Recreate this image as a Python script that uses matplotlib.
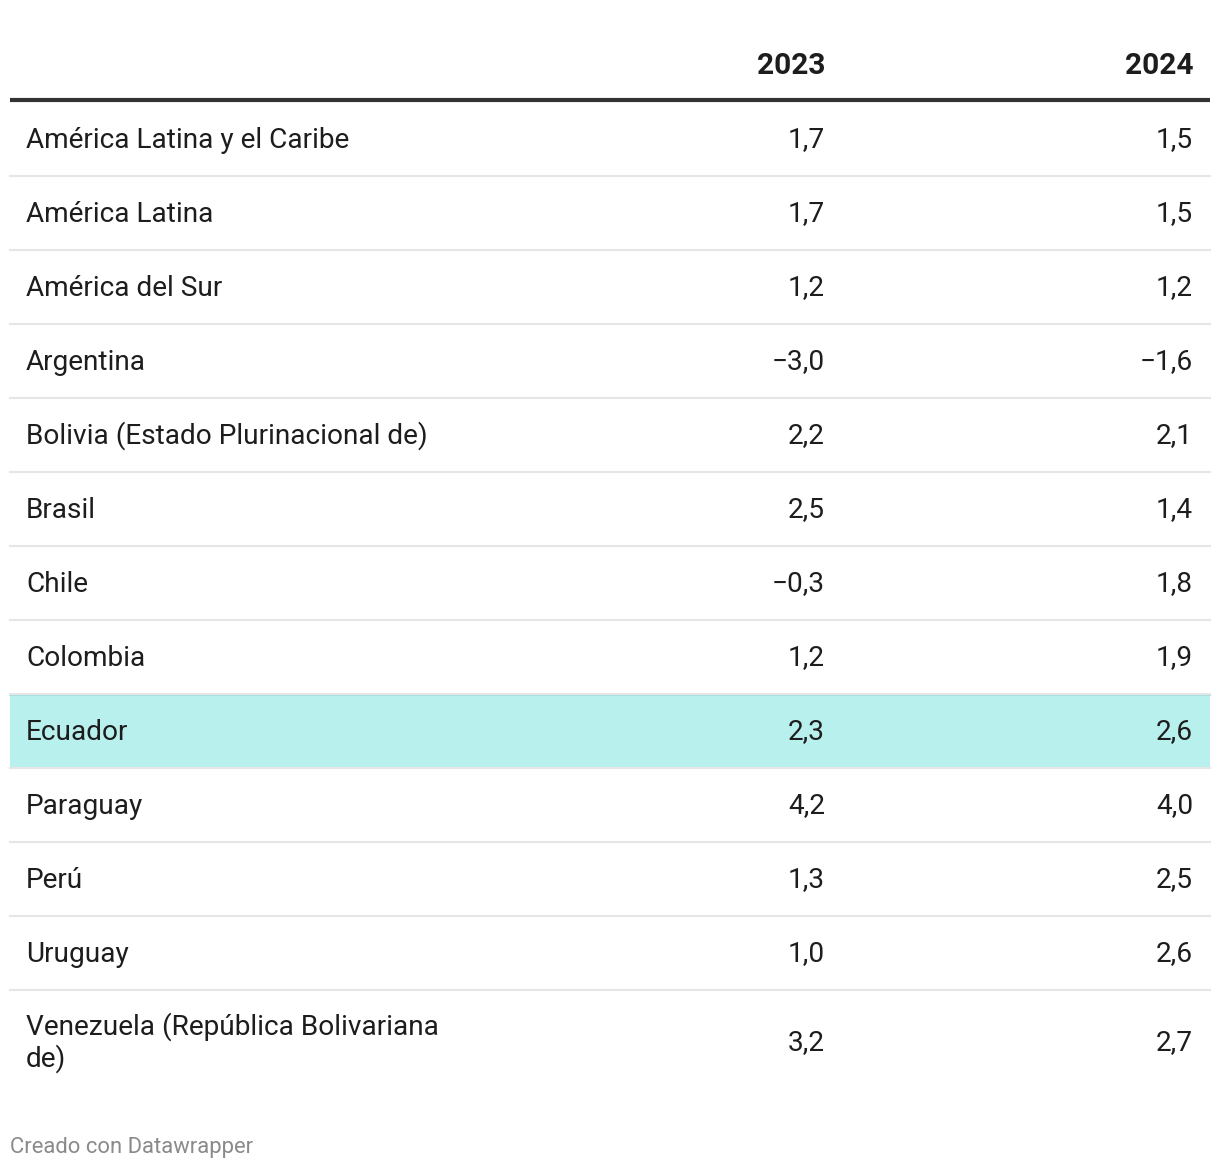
import matplotlib.pyplot as plt
from matplotlib.patches import Rectangle

plt.rcParams['font.family'] = ['Roboto', 'DejaVu Sans']

# Datos de la tabla
paises = [
    'América Latina y el Caribe',
    'América Latina',
    'América del Sur',
    'Argentina',
    'Bolivia (Estado Plurinacional de)',
    'Brasil',
    'Chile',
    'Colombia',
    'Ecuador',
    'Paraguay',
    'Perú',
    'Uruguay',
    'Venezuela (República Bolivariana\nde)',
]
anios = ['2023', '2024']
valores_2023 = [1.7, 1.7, 1.2, -3.0, 2.2, 2.5, -0.3, 1.2, 2.3, 4.2, 1.3, 1.0, 3.2]
valores_2024 = [1.5, 1.5, 1.2, -1.6, 2.1, 1.4, 1.8, 1.9, 2.6, 4.0, 2.5, 2.6, 2.7]
destacado = 'Ecuador'


def formato(v):
    # coma decimal y signo menos tipográfico
    s = f"{abs(v):.1f}".replace('.', ',')
    return ('\u2212' + s) if v < 0 else s


W, H = 1220, 1170
fig = plt.figure(figsize=(W / 100, H / 100), dpi=100)
ax = fig.add_axes([0, 0, 1, 1])
ax.set_xlim(0, W)
ax.set_ylim(H, 0)
ax.axis('off')

izq, der = 10, 1210
x_label = 26
x_cols = [825, 1193]
fs = 20.2
color_txt = '#1d1d1d'

# Encabezado
for x, a in zip(x_cols, anios):
    ax.text(x, 66, a, ha='right', va='center', fontsize=21.5, fontweight='bold', color=color_txt)
ax.plot([izq, der], [100, 100], color='#333333', lw=3, solid_capstyle='butt')

# Filas
y0 = 102
alto = 74
y = y0
for i, (p, v1, v2) in enumerate(zip(paises, valores_2023, valores_2024)):
    h = alto if '\n' not in p else 104
    if p == destacado:
        ax.add_patch(Rectangle((izq, y), der - izq, h, facecolor='#b8f0ed', edgecolor='none', zorder=0))
        ax.plot([izq, der], [y + 0.5, y + 0.5], color='#a3dcdc', lw=1.2, zorder=1)
    cy = y + h / 2 + 1
    ax.text(x_label, cy, p, ha='left', va='center', fontsize=fs, color=color_txt, linespacing=1.15)
    ax.text(x_cols[0], cy, formato(v1), ha='right', va='center', fontsize=fs, color=color_txt)
    ax.text(x_cols[1], cy, formato(v2), ha='right', va='center', fontsize=fs, color=color_txt)
    y += h
    if i < len(paises) - 1:
        ax.plot([izq, der], [y, y], color='#e6e6e6', lw=1.5, zorder=2)

# Pie
ax.text(izq, 1147, 'Creado con Datawrapper', ha='left', va='center', fontsize=15.8, color='#8a8a8a')

fig.savefig('out.png', dpi=100)
